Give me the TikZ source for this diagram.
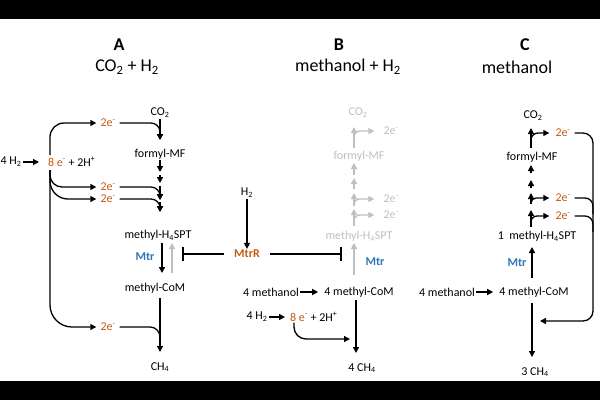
\documentclass[tikz,border=0pt]{standalone}
\usepackage{fontspec}
\setmainfont{Carlito}
\usetikzlibrary{arrows.meta}
\definecolor{eorange}{HTML}{C55A11}
\definecolor{mtrblue}{HTML}{2E75B6}
\definecolor{faded}{HTML}{BFBFBF}
\newcommand{\twoe}{2e\textsuperscript{-}}
\newcommand{\eightE}{\textcolor{eorange}{8 e\textsuperscript{-}} + 2H\textsuperscript{+}}

\begin{document}
\begin{tikzpicture}[
  x=1pt, y=-1pt,
  lbl/.style={font=\fontsize{12}{14}\selectfont, inner sep=1pt},
  ttl/.style={font=\fontsize{18}{22}\selectfont, inner sep=1pt},
  panel/.style={font=\fontsize{18}{22}\selectfont\bfseries, inner sep=1pt},
  elec/.style={lbl, text=eorange, inner xsep=4pt, inner ysep=0pt},
  enz/.style={font=\fontsize{12}{14}\selectfont\bfseries, text=mtrblue, inner sep=1pt},
  arrow/.style={-{Triangle[length=6pt,width=6pt]}, line width=1.3pt},
  faint/.style={arrow, draw=faded},
  inhib/.style={-{Bar[width=14pt,line width=2.2pt]}, line width=1.5pt},
]
\useasboundingbox (0,0) rectangle (600,400);
\fill[black] (0,0) rectangle (600,19);
\fill[black] (0,381) rectangle (600,400);

% headings
\node[panel] (hA) at (119,45) {A};
\node[ttl] (sA) at (127,67) {CO\textsubscript{2} + H\textsubscript{2}};
\node[panel] (hB) at (339,45) {B};
\node[ttl] (sB) at (348,67) {methanol + H\textsubscript{2}};
\node[panel] (hC) at (525,45) {C};
\node[ttl] (sC) at (517,67) {methanol};

% A: CO2 + H2
\node[lbl] (co2A) at (160,113) {CO\textsubscript{2}};
\node[lbl] (fmfA) at (160,154) {formyl-MF};
\node[lbl] (mhA) at (158,235) {methyl-H\textsubscript{4}SPT};
\node[lbl] (mcA) at (155,288) {methyl-CoM};
\node[lbl] (ch4A) at (160,367) {CH\textsubscript{4}};
\node[lbl] (h2A) at (11,162) {4 H\textsubscript{2}};
\node[lbl, anchor=west] (eA) at (47,162) {\eightE};
\node[elec] (e1A) at (108,123) {\twoe};
\node[elec] (e2A) at (108,187) {\twoe};
\node[elec] (e3A) at (108,199) {\twoe};
\node[elec] (e4A) at (108,327) {\twoe};
\node[enz] (mtrA) at (145,257) {Mtr};
\coordinate (tA) at (50,170);
\coordinate (jA1) at (160,140);
\coordinate (jA2) at (160,200);
\coordinate (jA3) at (160,212);
\coordinate (jA4) at (160,345);
\draw[arrow] (h2A.east) -- ([xshift=-8pt]eA.west);
\draw[arrow, rounded corners=14pt] (50,155) |- (e1A.west);
\draw[arrow, rounded corners=12pt] (tA) |- (e2A.west);
\draw[arrow, rounded corners=18pt] (tA) |- (e3A.west);
\draw[arrow, rounded corners=22pt] (tA) |- (e4A.west);
\draw[arrow] (co2A) -- (jA1);
\draw[arrow, rounded corners=9pt] (e1A.east) -| (jA1);
\draw[arrow] (fmfA) -- (160,172);
\draw[arrow] (160,175) -- (160,183);
\draw[arrow] (160,186) -- (jA2);
\draw[arrow] (160,202) -- (jA3);
\draw[arrow, rounded corners=9pt] (e2A.east) -| (jA2);
\draw[arrow, rounded corners=9pt] (e3A.east) -| (jA3);
\draw[arrow] (162,243) -- (162,273);
\draw[faint] (172,273) -- (172,243);
\draw[arrow] (160,298) -- (160,352);
\draw[line width=1.3pt, rounded corners=10pt] (e4A.east) -| (jA4);

% MtrR
\node[lbl] (h2M) at (247,193) {H\textsubscript{2}};
\node[lbl, font=\fontsize{12}{14}\selectfont\bfseries, text=eorange, inner xsep=10pt] (mtrR) at (247,254) {MtrR};
\draw[arrow] (h2M) -- (mtrR);
\draw[inhib] (mtrR.west) -- (182,254);
\draw[inhib] (mtrR.east) -- (342,254);

% B: methanol + H2
\node[lbl, text=faded] (co2B) at (358,113) {CO\textsubscript{2}};
\node[lbl, text=faded] (fmfB) at (359,156) {formyl-MF};
\node[lbl, text=faded] (mhB) at (359,236) {methyl-H\textsubscript{4}SPT};
\node[elec, text=faded] (e1B) at (391,131) {\twoe};
\node[elec, text=faded] (e2B) at (391,199) {\twoe};
\node[elec, text=faded] (e3B) at (391,215) {\twoe};
\node[enz] (mtrB) at (375,262) {Mtr};
\node[lbl] (meB) at (271,292) {4 methanol};
\node[lbl] (mcB) at (359,292) {4 methyl-CoM};
\node[lbl] (h2B) at (257,317) {4 H\textsubscript{2}};
\node[lbl, anchor=west] (eB) at (289,317) {\eightE};
\node[lbl] (ch4B) at (362,368) {4 CH\textsubscript{4}};
\coordinate (jB) at (350,339);
\draw[faint] (354,148) -- (354,127);
\draw[faint, rounded corners=6pt, shorten >=5pt] (354,145) |- (e1B.west);
\draw[faint] (354,175) -- (354,163);
\draw[faint] (354,189) -- (354,178);
\draw[faint] (354,206) -- (354,193);
\draw[faint, rounded corners=5pt, shorten >=5pt] (354,205) |- (e2B.west);
\draw[faint] (354,226) -- (354,209);
\draw[faint, rounded corners=6pt, shorten >=5pt] (354,224) |- (e3B.west);
\draw[faint] (354,275) -- (354,243);
\draw[arrow, shorten >=5pt] (meB) -- (mcB);
\draw[arrow, shorten >=4pt] (h2B) -- (eB);
\draw[arrow, rounded corners=12pt] ([xshift=5pt]eB.south west) |- (jB);
\draw[arrow] (356,300) -- (356,353);

% C: methanol
\node[lbl] (co2C) at (533,116) {CO\textsubscript{2}};
\node[lbl] (fmfC) at (532,157) {formyl-MF};
\node[lbl] (mhC) at (537,236) {1~~methyl-H\textsubscript{4}SPT};
\node[enz] (mtrC) at (517,263) {Mtr};
\node[lbl] (meC) at (447,292) {4 methanol};
\node[lbl] (mcC) at (534,292) {4 methyl-CoM};
\node[lbl] (ch4C) at (535,372) {3 CH\textsubscript{4}};
\node[elec] (e1C) at (563,133) {\twoe};
\node[elec] (e2C) at (563,198) {\twoe};
\node[elec] (e3C) at (563,216) {\twoe};
\coordinate (tC) at (593,321);
\draw[arrow] (531,148) -- (531,128);
\draw[arrow, rounded corners=7pt, shorten >=2pt] (531,144) |- (e1C.west);
\draw[arrow] (531,173) -- (531,165);
\draw[arrow] (531,188) -- (531,180);
\draw[arrow] (531,204) -- (531,193);
\draw[arrow, rounded corners=5pt, shorten >=2pt] (531,203) |- (e2C.west);
\draw[arrow] (531,227) -- (531,210);
\draw[arrow, rounded corners=6pt, shorten >=2pt] (531,225) |- (e3C.west);
\draw[arrow] (532,278) -- (532,247);
\draw[arrow, shorten >=5pt] (meC) -- (mcC);
\draw[arrow] (532,303) -- (532,357);
\draw[arrow, rounded corners=10pt] (e1C.east) -| (tC) -- (540,321);
\draw[line width=1.3pt, rounded corners=8pt] (e2C.east) -| (593,214);
\draw[line width=1.3pt, rounded corners=8pt] (e3C.east) -| (593,232);
\end{tikzpicture}
\end{document}
